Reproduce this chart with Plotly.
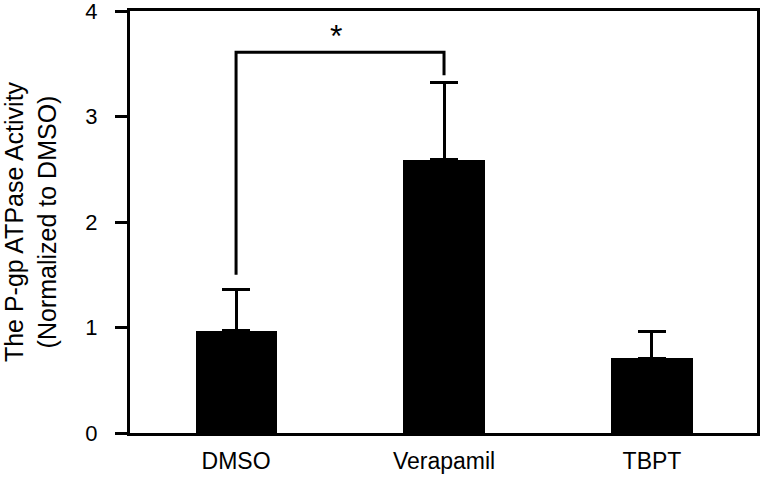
import plotly.graph_objects as go

categories = ["DMSO", "Verapamil", "TBPT"]
values = [0.97, 2.59, 0.71]
errors = [0.39, 0.73, 0.25]
y_ticks = [0, 1, 2, 3, 4]
sig_pair = (0, 1)
sig_label = "*"
bracket_level = 3.61

FONT = "Liberation Sans, Arial, sans-serif"

fig = go.Figure()
fig.add_trace(go.Bar(
    x=list(range(len(categories))), y=values, width=0.39,
    marker=dict(color="black", line=dict(width=0)),
    error_y=dict(type="data", symmetric=False, array=errors,
                 arrayminus=[0] * len(errors), color="black",
                 thickness=3, width=14),
    showlegend=False,
))

i, j = sig_pair
left_top = values[i] + errors[i] + 0.14
right_top = values[j] + errors[j] + 0.07
fig.add_trace(go.Scatter(
    x=[i, i, j, j], y=[left_top, bracket_level, bracket_level, right_top],
    mode="lines", line=dict(color="black", width=3), showlegend=False,
    hoverinfo="skip",
))
fig.add_annotation(x=(i + j) / 2, y=bracket_level, text=sig_label,
                   showarrow=False, yanchor="bottom", yshift=-4, xshift=-4,
                   font=dict(family=FONT, size=32, color="black"))

fig.update_xaxes(
    range=[-0.51, 2.505], tickvals=list(range(len(categories))),
    ticktext=categories, showline=True, linecolor="black", linewidth=3,
    mirror=True, ticks="", showgrid=False, zeroline=False, automargin=False,
    ticklabelstandoff=5, ticklabeloverflow="allow",
    tickfont=dict(family=FONT, size=23, color="black"),
)
fig.update_yaxes(
    range=[0, 4], tickvals=y_ticks, showline=True, linecolor="black",
    linewidth=3, mirror=True, ticks="outside", ticklen=12, tickwidth=3,
    tickcolor="black", showgrid=False, zeroline=False, automargin=False,
    ticklabelstandoff=13, ticklabeloverflow="allow",
    tickfont=dict(family=FONT, size=22, color="black"),
    title=dict(text="The P-gp ATPase Activity<br>(Normalized to DMSO)",
               font=dict(family=FONT, size=25, color="black"), standoff=30),
)
fig.update_layout(
    width=765, height=477, plot_bgcolor="white", paper_bgcolor="white",
    margin=dict(l=130, r=8, t=11, b=44), bargap=0,
)
fig.write_html("out.html", config={"displayModeBar": False},
               post_script="document.body.style.margin='0';")
